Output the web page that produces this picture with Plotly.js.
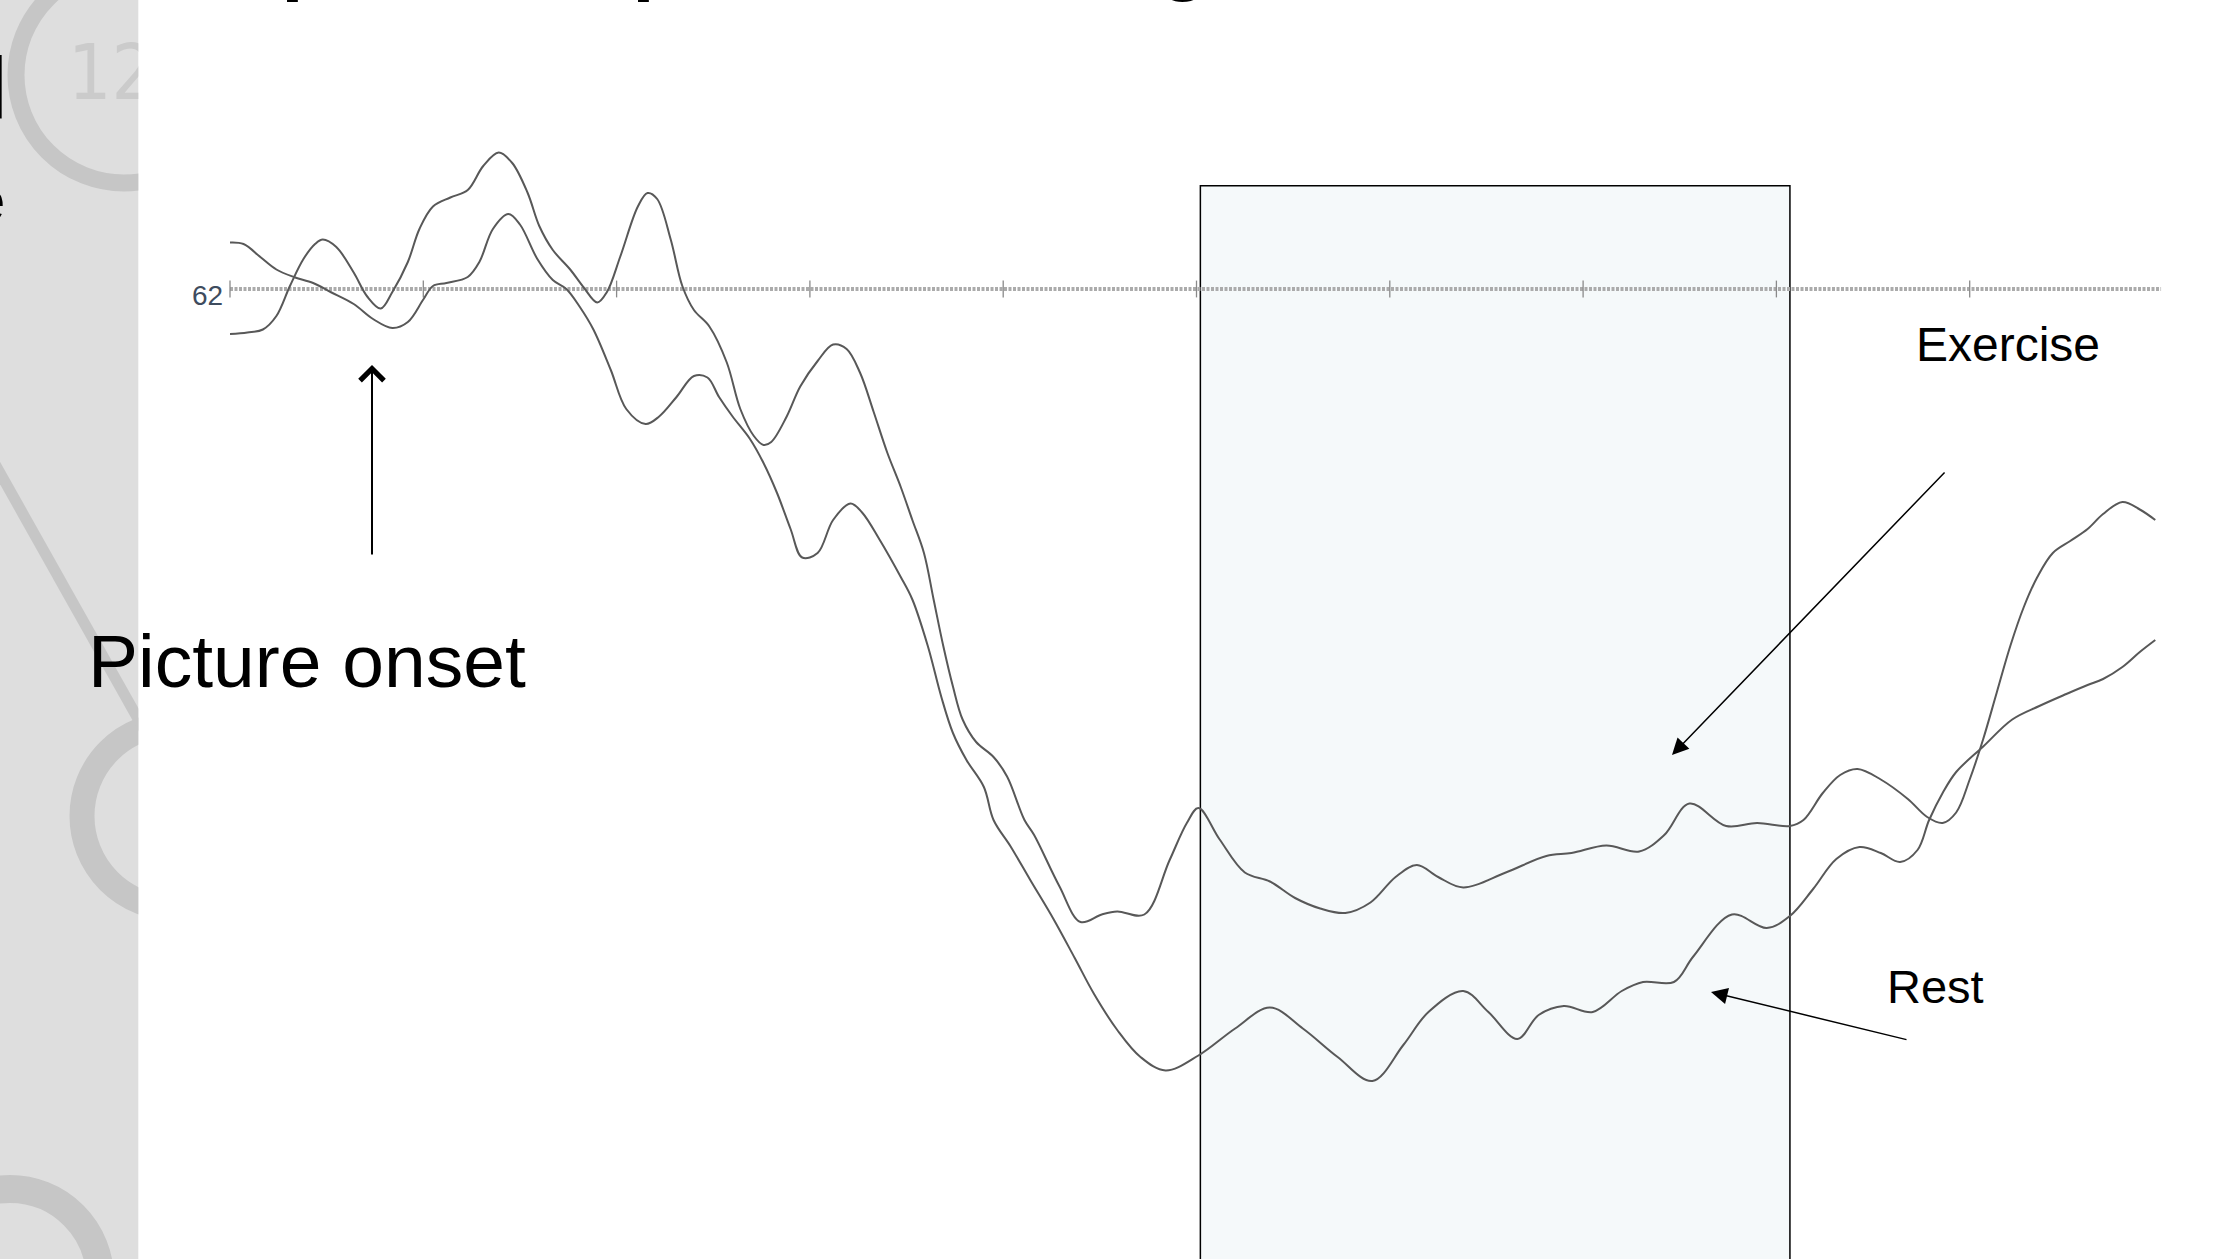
<!DOCTYPE html>
<html>
<head>
<meta charset="utf-8">
<script src="https://cdn.plot.ly/plotly-3.0.1.min.js"></script>
<style>
  html, body { margin: 0; padding: 0; background: #ffffff; overflow: hidden; }
  #chart { width: 2217px; height: 1259px; }
</style>
</head>
<body>
<div id="chart"></div>
<script>
// Heart rate (bpm) after picture onset, exercise vs rest condition.
// Time in seconds from the start of the recorded epoch.
const exerciseTime = [0, 0.09, 0.17, 0.24, 0.31, 0.38, 0.44, 0.48, 0.55, 0.64,
  0.71, 0.78, 0.84, 0.92, 0.98, 1.05, 1.14, 1.23, 1.31, 1.39,
  1.46, 1.54, 1.60, 1.67, 1.76, 1.83, 1.90, 1.95, 2.02, 2.11,
  2.16, 2.21, 2.28, 2.34, 2.40, 2.48, 2.57, 2.64, 2.71, 2.76,
  2.80, 2.88, 2.95, 3.04, 3.12, 3.19, 3.26, 3.33, 3.40, 3.47,
  3.53, 3.59, 3.64, 3.69, 3.74, 3.79, 3.86, 3.95, 4.02, 4.11,
  4.16, 4.29, 4.40, 4.51, 4.59, 4.73, 4.86, 4.95, 5.01, 5.12,
  5.25, 5.38, 5.51, 5.64, 5.77, 5.90, 6.03, 6.14, 6.25, 6.38,
  6.60, 6.81, 6.94, 7.12, 7.29, 7.42, 7.55, 7.74, 7.90, 8.07,
  8.14, 8.24, 8.33, 8.42, 8.54, 8.68, 8.78, 8.86, 8.93, 9.00,
  9.07, 9.14, 9.21, 9.28, 9.35, 9.43, 9.52, 9.61, 9.69, 9.79,
  9.88, 9.96];
const exerciseRate = [61.70, 61.71, 61.73, 61.82, 62.02, 62.20, 62.30, 62.33, 62.28, 62.11,
  61.95, 61.87, 61.98, 62.18, 62.40, 62.55, 62.61, 62.66, 62.82, 62.91,
  62.84, 62.64, 62.42, 62.26, 62.13, 62.01, 61.91, 61.98, 62.22, 62.55,
  62.64, 62.60, 62.33, 62.02, 61.86, 61.75, 61.51, 61.20, 61.02, 60.96,
  60.98, 61.15, 61.35, 61.52, 61.63, 61.60, 61.44, 61.18, 60.91, 60.68,
  60.46, 60.24, 59.93, 59.62, 59.35, 59.13, 58.98, 58.88, 58.75, 58.46,
  58.36, 58.02, 57.78, 57.83, 57.85, 57.83, 58.19, 58.44, 58.54, 58.33,
  58.11, 58.05, 57.94, 57.87, 57.84, 57.91, 58.08, 58.16, 58.08, 58.01,
  58.11, 58.22, 58.24, 58.29, 58.25, 58.36, 58.57, 58.42, 58.44, 58.42,
  58.46, 58.64, 58.76, 58.80, 58.73, 58.60, 58.48, 58.44, 58.51, 58.73,
  59.00, 59.31, 59.62, 59.88, 60.08, 60.24, 60.32, 60.40, 60.50, 60.58,
  60.53, 60.46];

const restTime = [0, 0.07, 0.16, 0.24, 0.33, 0.43, 0.52, 0.64, 0.74, 0.84,
  0.92, 1.00, 1.05, 1.12, 1.23, 1.29, 1.36, 1.44, 1.50, 1.59,
  1.67, 1.74, 1.81, 1.88, 1.97, 2.05, 2.15, 2.22, 2.31, 2.40,
  2.47, 2.53, 2.60, 2.69, 2.76, 2.83, 2.90, 2.96, 3.04, 3.12,
  3.21, 3.27, 3.36, 3.47, 3.53, 3.61, 3.68, 3.74, 3.81, 3.90,
  3.95, 4.04, 4.14, 4.26, 4.37, 4.47, 4.59, 4.71, 4.84, 5.01,
  5.20, 5.38, 5.55, 5.73, 5.91, 6.07, 6.20, 6.38, 6.51, 6.66,
  6.77, 6.90, 7.05, 7.20, 7.31, 7.47, 7.57, 7.77, 7.95, 8.07,
  8.19, 8.31, 8.43, 8.54, 8.64, 8.73, 8.79, 8.86, 8.93, 9.07,
  9.22, 9.36, 9.50, 9.61, 9.69, 9.79, 9.88, 9.96];
const restRate = [62.31, 62.30, 62.21, 62.13, 62.08, 62.04, 61.98, 61.90, 61.80, 61.74,
  61.78, 61.93, 62.02, 62.04, 62.08, 62.18, 62.40, 62.50, 62.43, 62.20,
  62.06, 62.00, 61.88, 61.73, 61.46, 61.20, 61.10, 61.15, 61.28, 61.42,
  61.41, 61.28, 61.15, 61.00, 60.84, 60.64, 60.40, 60.21, 60.24, 60.46,
  60.57, 60.51, 60.33, 60.08, 59.93, 59.62, 59.28, 59.04, 58.86, 58.68,
  58.46, 58.28, 58.06, 57.80, 57.54, 57.30, 57.06, 56.88, 56.79, 56.89,
  57.07, 57.21, 57.07, 56.88, 56.72, 56.96, 57.18, 57.32, 57.18, 57.00,
  57.16, 57.22, 57.18, 57.32, 57.38, 57.38, 57.55, 57.83, 57.74, 57.82,
  58.00, 58.20, 58.28, 58.24, 58.18, 58.26, 58.46, 58.64, 58.78, 58.95,
  59.13, 59.22, 59.30, 59.36, 59.40, 59.48, 59.58, 59.66];

// Reference level and second marks along it
const baselineRate = 62;
const baselineLabel = '62';
const baselineEnd = 9.99;
const secondTicks = [0, 1, 2, 3, 4, 5, 6, 7, 8, 9];

// Analysis window (s)
const windowStart = 5.02;
const windowEnd = 8.07;

// Page geometry helpers (pixels -> paper fractions)
const W = 2217, H = 1259;
const px = x => x / W;
const py = y => 1 - y / H;

// Axis scale: 193.3 px per second, 150 px per bpm, reference level 289 px from top
const secPx = 193.3, bpmPx = 150, originX = 230, baseY = 289;
const tRange = [-originX / secPx, (W - originX) / secPx];
const hrRange = [baselineRate - (H - baseY) / bpmPx, baselineRate + baseY / bpmPx];

const stripW = 138.3;
const ringGrey = '#c6c6c6';
const traceGrey = '#585858';
const font = 'Liberation Sans, Arial, sans-serif';

const traces = [
  {
    x: [0, baselineEnd], y: [baselineRate, baselineRate],
    mode: 'lines', xaxis: 'x', yaxis: 'y', hoverinfo: 'skip',
    line: { color: '#ababab', width: 4, dash: '3px,1.5px' }
  },
  {
    x: secondTicks, y: secondTicks.map(() => baselineRate),
    mode: 'markers', xaxis: 'x', yaxis: 'y', hoverinfo: 'skip',
    marker: { symbol: 'line-ns', size: 12, line: { color: '#8a8a8a', width: 1.3 } }
  },
  {
    name: 'Exercise', x: exerciseTime, y: exerciseRate,
    mode: 'lines', xaxis: 'x', yaxis: 'y',
    line: { color: traceGrey, width: 2, shape: 'spline', smoothing: 1 }
  },
  {
    name: 'Rest', x: restTime, y: restRate,
    mode: 'lines', xaxis: 'x', yaxis: 'y',
    line: { color: traceGrey, width: 2, shape: 'spline', smoothing: 1 }
  },
  // stamp number in the side band
  {
    x: [68], y: [80], xaxis: 'x2', yaxis: 'y2',
    mode: 'text', text: ['125'], textposition: 'middle right', cliponaxis: true,
    hoverinfo: 'skip',
    textfont: { family: 'Liberation Sans Narrow, DejaVu Sans Condensed, sans-serif', size: 76, color: '#cbcbcb' }
  }
];

function ring(cx, cy, r, w) {
  return {
    type: 'circle', xref: 'x2', yref: 'y2', layer: 'below',
    x0: cx - r, x1: cx + r, y0: cy - r, y1: cy + r,
    fillcolor: 'rgba(0,0,0,0)', line: { color: ringGrey, width: w }
  };
}

const shapes = [
  { type: 'rect', xref: 'paper', yref: 'paper', layer: 'below',
    x0: 0, x1: px(stripW), y0: 0, y1: 1, fillcolor: '#dedede', line: { width: 0 } },
  { type: 'rect', xref: 'x', yref: 'paper', layer: 'below',
    x0: windowStart, x1: windowEnd, y0: -0.02, y1: py(185.7),
    fillcolor: '#f5f9fa', line: { color: '#000000', width: 1.5 } },
  ring(124, 75, 108, 17),
  ring(174, 816, 92, 25),
  ring(10, 1279, 90, 28),
  { type: 'line', xref: 'x2', yref: 'y2', layer: 'below',
    x0: -100, y0: 295, x1: 150, y1: 740, line: { color: ringGrey, width: 11 } }
];

const annotations = [
  { xref: 'paper', yref: 'paper', x: px(-230), y: py(-43), xanchor: 'left', yanchor: 'middle',
    showarrow: false, text: '<b>Heart rate response to pictures during exercise</b>',
    font: { family: font, size: 79, color: '#000000' } },
  { xref: 'paper', yref: 'paper', x: px(9.6), y: py(87.5), xanchor: 'right', yanchor: 'middle',
    showarrow: false, text: 'l', font: { family: font, size: 88, color: '#000000' } },
  { xref: 'paper', yref: 'paper', x: px(6.9), y: py(200), xanchor: 'right', yanchor: 'middle',
    showarrow: false, text: 'e', font: { family: font, size: 60, color: '#000000' } },
  { xref: 'x', yref: 'y', x: 0, y: baselineRate, xanchor: 'right', yanchor: 'middle',
    xshift: -5, yshift: -6, showarrow: false, text: baselineLabel,
    font: { family: font, size: 28, color: '#3e4c5e' } },
  { xref: 'paper', yref: 'paper', x: px(86), y: py(661), xanchor: 'left', yanchor: 'middle',
    showarrow: false, text: 'Picture onset', font: { family: font, size: 75, color: '#000000' } },
  { xref: 'paper', yref: 'paper', x: px(372), y: py(365), ax: 0, ay: 191,
    text: '', showarrow: true, arrowhead: 4, arrowsize: 2.3, arrowwidth: 2, arrowcolor: '#000000',
    standoff: 0, startstandoff: 0 },
  { xref: 'paper', yref: 'paper', x: px(1914), y: py(344), xanchor: 'left', yanchor: 'middle',
    showarrow: false, text: 'Exercise', font: { family: font, size: 48, color: '#000000' } },
  { xref: 'paper', yref: 'paper', x: px(1672), y: py(755), ax: 274, ay: -284,
    text: '', showarrow: true, arrowhead: 2, arrowsize: 2.2, arrowwidth: 1.5, arrowcolor: '#000000',
    standoff: 0, startstandoff: 0 },
  { xref: 'paper', yref: 'paper', x: px(1885), y: py(987), xanchor: 'left', yanchor: 'middle',
    showarrow: false, text: 'Rest', font: { family: font, size: 47, color: '#000000' } },
  { xref: 'paper', yref: 'paper', x: px(1711), y: py(992), ax: 197, ay: 48,
    text: '', showarrow: true, arrowhead: 2, arrowsize: 2.2, arrowwidth: 1.5, arrowcolor: '#000000',
    standoff: 0, startstandoff: 0 }
];

const layout = {
  width: W, height: H,
  margin: { l: 0, r: 0, t: 0, b: 0, pad: 0 },
  paper_bgcolor: '#ffffff',
  plot_bgcolor: 'rgba(0,0,0,0)',
  showlegend: false,
  xaxis: { domain: [0, 1], range: tRange, visible: false, anchor: 'y' },
  yaxis: { domain: [0, 1], range: hrRange, visible: false, anchor: 'x' },
  xaxis2: { domain: [0, px(stripW)], range: [0, stripW], visible: false, anchor: 'y2' },
  yaxis2: { domain: [0, 1], range: [H, 0], visible: false, anchor: 'x2' },
  shapes: shapes,
  annotations: annotations
};

Plotly.newPlot('chart', traces, layout, { staticPlot: true, displayModeBar: false });
</script>
</body>
</html>
